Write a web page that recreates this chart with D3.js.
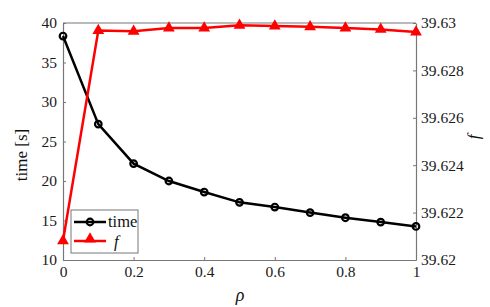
<!DOCTYPE html>
<html>
<head>
<meta charset="utf-8">
<script src="https://cdn.jsdelivr.net/npm/d3@7"></script>
<style>
  body { margin: 0; background: #fff; }
  svg { display: block; }
  svg text { font-family: "Liberation Serif", "Times New Roman", serif; }
</style>
</head>
<body>
<script>
// data
var rho = [0, 0.1, 0.2, 0.3, 0.4, 0.5, 0.6, 0.7, 0.8, 0.9, 1.0];
var timeVals = [38.35, 27.2, 22.2, 20.0, 18.6, 17.3, 16.7, 16.0, 15.35, 14.8, 14.25];
var fVals = [39.62081, 39.62968, 39.62965, 39.62979, 39.62979, 39.6299, 39.62987, 39.62984, 39.62979, 39.62973, 39.62962];
var xTicks = [0, 0.2, 0.4, 0.6, 0.8, 1];
var leftTicks = [10, 15, 20, 25, 30, 35, 40];
var rightTicks = [39.62, 39.622, 39.624, 39.626, 39.628, 39.63];

var width = 490, height = 307;
var m = {left: 63, right: 416, top: 23, bottom: 260};

var svg = d3.select("body").append("svg")
    .attr("width", width)
    .attr("height", height);

var x = d3.scaleLinear().domain([0, 1]).range([m.left, m.right]);
var yL = d3.scaleLinear().domain([10, 40]).range([m.bottom, m.top]);
var yR = d3.scaleLinear().domain([39.62, 39.63]).range([m.bottom, m.top]);

var axisColor = "#777";

// axes with small inward ticks
var gx = svg.append("g")
    .attr("transform", "translate(0," + m.bottom + ")")
    .call(d3.axisBottom(x).tickValues(xTicks).tickSizeInner(-3).tickSizeOuter(0).tickPadding(6)
      .tickFormat(function(d) { return d3.format("~g")(d); }));
var gl = svg.append("g")
    .attr("transform", "translate(" + m.left + ",0)")
    .call(d3.axisLeft(yL).tickValues(leftTicks).tickSizeInner(-3).tickSizeOuter(0).tickPadding(6));
var gr = svg.append("g")
    .attr("transform", "translate(" + m.right + ",0)")
    .call(d3.axisRight(yR).tickValues(rightTicks).tickSizeInner(-3).tickSizeOuter(0).tickPadding(5)
      .tickFormat(function(d) { return d3.format("~g")(+d.toFixed(3)); }));

[gx, gl, gr].forEach(function(g) {
  g.attr("font-family", null).attr("font-size", null);
  g.select(".domain").attr("stroke", axisColor).attr("stroke-width", 1.2);
  g.selectAll(".tick line").attr("stroke", axisColor);
  g.selectAll(".tick text").attr("fill", "#1a1a1a").style("font-size", "15.5px");
});
// top border
svg.append("line")
    .attr("x1", m.left).attr("x2", m.right)
    .attr("y1", m.top).attr("y2", m.top)
    .attr("stroke", axisColor).attr("stroke-width", 1.2);

// time line
var lineT = d3.line().x(function(d, i) { return x(rho[i]); }).y(function(d) { return yL(d); });
svg.append("path").datum(timeVals)
    .attr("d", lineT)
    .attr("fill", "none").attr("stroke", "#000").attr("stroke-width", 2.5);
svg.selectAll(".tm").data(timeVals).enter().append("circle")
    .attr("class", "tm")
    .attr("cx", function(d, i) { return x(rho[i]); })
    .attr("cy", function(d) { return yL(d); })
    .attr("r", 3.3)
    .attr("fill", "none").attr("stroke", "#000").attr("stroke-width", 2.2);

// f line
var lineF = d3.line().x(function(d, i) { return x(rho[i]); }).y(function(d) { return yR(d); });
svg.append("path").datum(fVals)
    .attr("d", lineF)
    .attr("fill", "none").attr("stroke", "#f00").attr("stroke-width", 2.5);
var tri = d3.symbol().type(d3.symbolTriangle).size(60);
svg.selectAll(".fm").data(fVals).enter().append("path")
    .attr("class", "fm")
    .attr("d", tri)
    .attr("transform", function(d, i) { return "translate(" + x(rho[i]) + "," + yR(d) + ")"; })
    .attr("fill", "#f00");

// legend
var lg = svg.append("g").attr("transform", "translate(71,210)");
lg.append("rect").attr("width", 67).attr("height", 43)
    .attr("fill", "#fff").attr("stroke", axisColor).attr("stroke-width", 1);
lg.append("line").attr("x1", 3).attr("x2", 35).attr("y1", 12).attr("y2", 12)
    .attr("stroke", "#000").attr("stroke-width", 2.5);
lg.append("circle").attr("cx", 19).attr("cy", 12).attr("r", 3.3)
    .attr("fill", "none").attr("stroke", "#000").attr("stroke-width", 2.2);
lg.append("text").attr("x", 37).attr("y", 17).text("time")
    .style("font-size", "16.5px").attr("fill", "#111");
lg.append("line").attr("x1", 3).attr("x2", 35).attr("y1", 31).attr("y2", 31)
    .attr("stroke", "#f00").attr("stroke-width", 2.5);
lg.append("path").attr("d", tri).attr("transform", "translate(19,29)").attr("fill", "#f00");
lg.append("text").attr("x", 43).attr("y", 37).text("f")
    .style("font-size", "16.5px").style("font-style", "italic").attr("fill", "#111");

// axis titles
svg.append("text")
    .attr("transform", "translate(27,155) rotate(-90)")
    .attr("text-anchor", "middle")
    .style("font-size", "17px").attr("fill", "#111")
    .text("time [s]");
svg.append("text")
    .attr("transform", "translate(479,137) rotate(-90)")
    .attr("text-anchor", "middle")
    .style("font-size", "17px").style("font-style", "italic").attr("fill", "#111")
    .text("f");
svg.append("text")
    .attr("x", 240).attr("y", 301)
    .attr("text-anchor", "middle")
    .style("font-size", "18px").style("font-style", "italic").attr("fill", "#111")
    .text("ρ");
</script>
</body>
</html>
